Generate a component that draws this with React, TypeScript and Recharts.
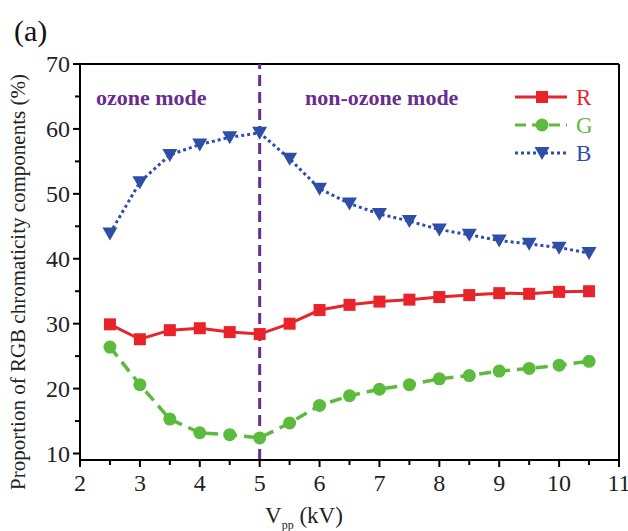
import React from 'react';
import { LineChart, Line, XAxis, YAxis, ReferenceLine, Label } from 'recharts';

// x values (kV) and the three chromaticity proportions (%)
const voltages = [2.5, 3, 3.5, 4, 4.5, 5, 5.5, 6, 6.5, 7, 7.5, 8, 8.5, 9, 9.5, 10, 10.5];
const redValues = [29.9, 27.6, 29.0, 29.3, 28.7, 28.4, 30.0, 32.1, 32.9, 33.4, 33.7, 34.1, 34.4, 34.7, 34.6, 34.9, 35.0];
const greenValues = [26.4, 20.6, 15.3, 13.2, 12.9, 12.4, 14.7, 17.4, 18.9, 19.9, 20.6, 21.5, 22.0, 22.7, 23.1, 23.6, 24.2];
const blueValues = [43.9, 51.8, 56.0, 57.6, 58.7, 59.4, 55.4, 50.8, 48.5, 46.9, 45.8, 44.5, 43.7, 42.8, 42.3, 41.7, 40.9];

const xTicks = [2, 2.5, 3, 3.5, 4, 4.5, 5, 5.5, 6, 6.5, 7, 7.5, 8, 8.5, 9, 9.5, 10, 10.5, 11];
const yTicks = [10, 15, 20, 25, 30, 35, 40, 45, 50, 55, 60, 65, 70];
const boundary = 5;

const RED = '#e8232a';
const GREEN = '#5cba3c';
const BLUE = '#2e4ea8';
const PURPLE = '#6a2c8f';
const FONT = "'Liberation Serif', 'Times New Roman', Times, serif";
const txt = { fontFamily: FONT };

const data = voltages.map((v, i) => ({ v, R: redValues[i], G: greenValues[i], B: blueValues[i] }));

const SquareDot = (props: any) => {
  const { cx, cy, index } = props;
  return <rect key={`r${index}`} x={cx - 6} y={cy - 6} width={12} height={12} fill={RED} />;
};
const CircleDot = (props: any) => {
  const { cx, cy, index } = props;
  return <circle key={`g${index}`} cx={cx} cy={cy} r={6.5} fill={GREEN} />;
};
const TriangleDot = (props: any) => {
  const { cx, cy, index } = props;
  return (
    <polygon
      key={`b${index}`}
      points={`${cx - 7.5},${cy - 6} ${cx + 7.5},${cy - 6} ${cx},${cy + 7}`}
      fill={BLUE}
    />
  );
};

const XTick = (props: any) => {
  const { x, y, payload } = props;
  const major = Number.isInteger(payload.value);
  return (
    <g>
      <line x1={x} y1={y} x2={x} y2={y + (major ? 7 : 5)} stroke="#000" strokeWidth={2} />
      {major && (
        <text x={x} y={y + 31} textAnchor="middle" fontSize={24} style={txt} fill="#222">
          {payload.value}
        </text>
      )}
    </g>
  );
};

const YTick = (props: any) => {
  const { x, y, payload } = props;
  const major = payload.value % 10 === 0;
  return (
    <g>
      <line x1={x} y1={y} x2={x - (major ? 7 : 5)} y2={y} stroke="#000" strokeWidth={2} />
      {major && (
        <text x={x - 10} y={y + 8} textAnchor="end" fontSize={24} style={txt} fill="#222">
          {payload.value}
        </text>
      )}
    </g>
  );
};

const legendItems = [
  { name: 'R', color: RED, dash: undefined, shape: 'square' },
  { name: 'G', color: GREEN, dash: '11 6', shape: 'circle' },
  { name: 'B', color: BLUE, dash: '3 3', shape: 'triangle' },
];

const App = () => {
  return (
    <div style={{ position: 'relative', width: 628, height: 531 }}>
      <style>{'body{margin:0}'}</style>
      <LineChart width={628} height={531} data={data} margin={{ top: 64, right: 9, left: 0, bottom: 0 }}>
        <XAxis
          dataKey="v"
          type="number"
          domain={[2, 11]}
          ticks={xTicks}
          interval={0}
          height={71}
          tickLine={false}
          tickSize={0}
          tickMargin={0}
          tick={<XTick />}
          axisLine={{ stroke: '#000', strokeWidth: 2 }}
        >
          <Label
            content={() => (
              <text x={265} y={523} fontSize={23} style={txt} fill="#222">
                V
                <tspan fontSize={12} dy={6}>pp</tspan>
                <tspan dy={-6}> (kV)</tspan>
              </text>
            )}
          />
        </XAxis>
        <YAxis
          type="number"
          domain={[9, 70]}
          ticks={yTicks}
          interval={0}
          width={80}
          tickLine={false}
          tickSize={0}
          tickMargin={0}
          tick={<YTick />}
          axisLine={{ stroke: '#000', strokeWidth: 2 }}
        >
          <Label
            content={() => (
              <text
                x={25}
                y={282}
                transform="rotate(-90 25 282)"
                textAnchor="middle"
                fontSize={21}
                style={txt}
                fill="#222"
              >
                Proportion of RGB chromaticity components (%)
              </text>
            )}
          />
        </YAxis>
        <ReferenceLine y={70} stroke="#000" strokeWidth={2} />
        <ReferenceLine x={11} stroke="#000" strokeWidth={2} />
        <Line
          dataKey="B"
          stroke={BLUE}
          strokeWidth={3}
          strokeDasharray="3 3"
          dot={TriangleDot}
          activeDot={false}
          isAnimationActive={false}
        />
        <Line
          dataKey="R"
          stroke={RED}
          strokeWidth={3}
          dot={SquareDot}
          activeDot={false}
          isAnimationActive={false}
        />
        <Line
          dataKey="G"
          stroke={GREEN}
          strokeWidth={3.5}
          strokeDasharray="12 7"
          dot={CircleDot}
          activeDot={false}
          isAnimationActive={false}
        />
        <ReferenceLine x={boundary} stroke={PURPLE} strokeWidth={3} strokeDasharray="11 6" />
      </LineChart>
      <svg
        width={628}
        height={531}
        style={{ position: 'absolute', left: 0, top: 0, pointerEvents: 'none' }}
      >
        <text x={14} y={41} fontSize={30} style={txt} fill="#111">(a)</text>
        <text x={96} y={105} fontSize={22} fontWeight="bold" style={txt} fill={PURPLE}>ozone mode</text>
        <text x={305} y={105} fontSize={22} fontWeight="bold" style={txt} fill={PURPLE}>non-ozone mode</text>
        {legendItems.map((item, i) => {
          const cy = 97 + i * 28;
          return (
            <g key={item.name}>
              <line x1={515} y1={cy} x2={567} y2={cy} stroke={item.color} strokeWidth={3} strokeDasharray={item.dash} />
              {item.shape === 'square' && <rect x={536} y={cy - 6} width={12} height={12} fill={item.color} />}
              {item.shape === 'circle' && <circle cx={542} cy={cy} r={6.5} fill={item.color} />}
              {item.shape === 'triangle' && (
                <polygon points={`${534.5},${cy - 6} ${549.5},${cy - 6} ${542},${cy + 7}`} fill={item.color} />
              )}
              <text x={576} y={cy + 8} fontSize={23} style={txt} fill={item.color}>{item.name}</text>
            </g>
          );
        })}
      </svg>
    </div>
  );
};

export default App;
